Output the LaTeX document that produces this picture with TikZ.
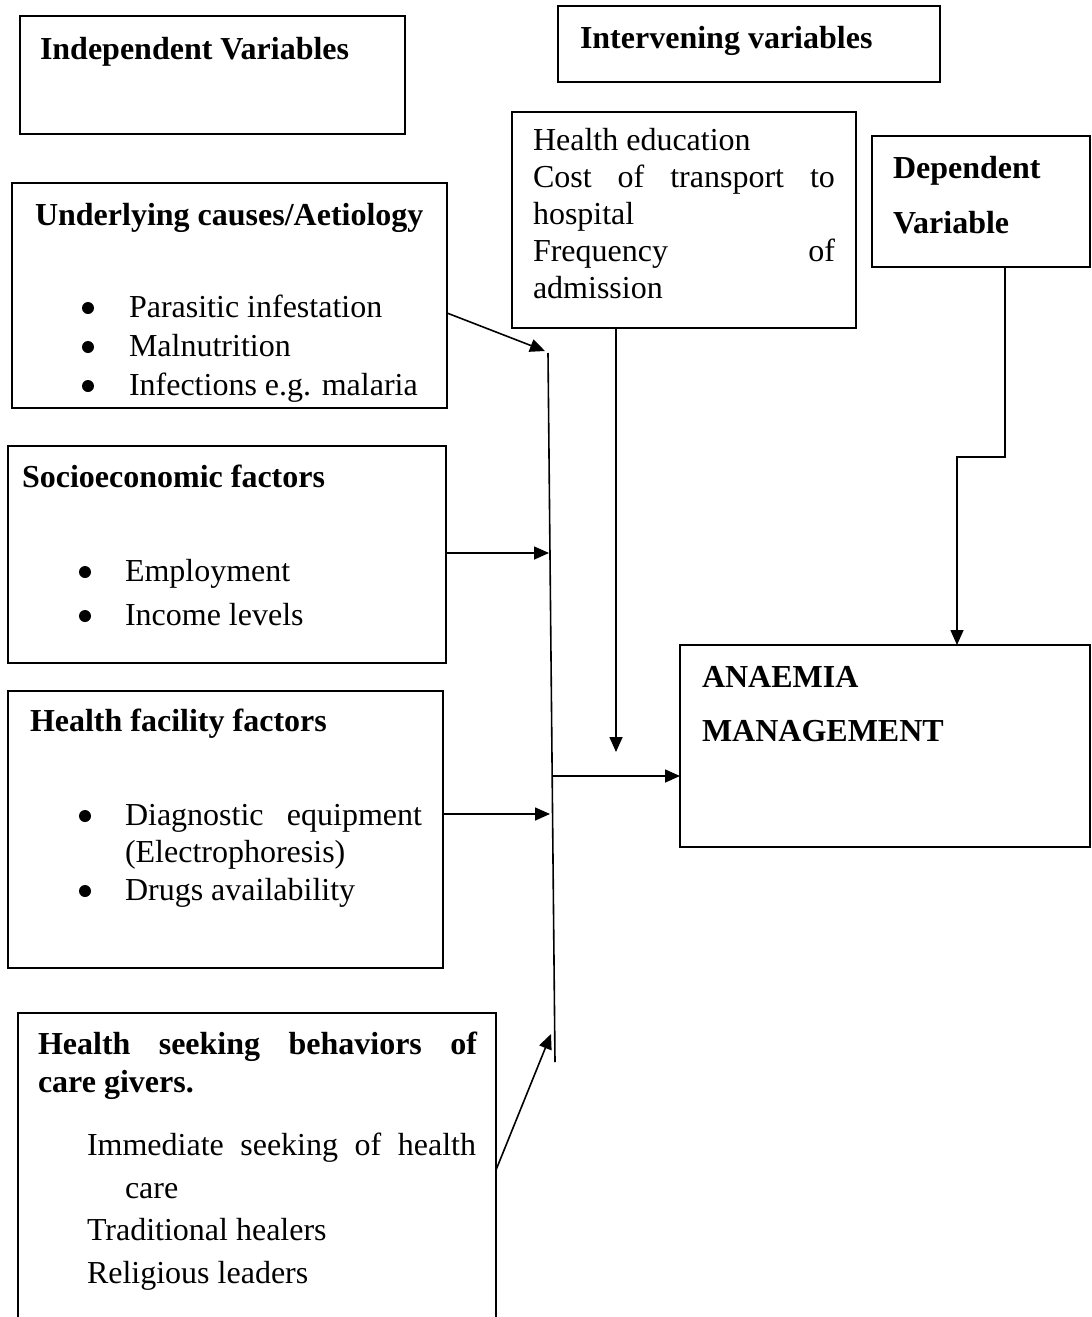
\documentclass[tikz,border=0pt]{standalone}
\usepackage{fontspec}
\setmainfont{Liberation Serif}
\usetikzlibrary{arrows.meta}
\begin{document}
\begin{tikzpicture}[x=1pt,y=-1pt,
  box/.style={draw, line width=1.6pt, inner sep=0pt, outer sep=0pt},
  txt/.style={anchor=base west, inner sep=0pt, outer sep=0pt, font=\fontsize{32}{37}\selectfont},
  head/.style={anchor=base west, inner sep=0pt, outer sep=0pt, font=\fontsize{32}{37}\selectfont\bfseries},
  bul/.style={circle, fill, inner sep=0pt, outer sep=0pt, minimum size=12pt},
  conn/.style={line width=1.6pt},
  arr/.style={line width=1.6pt, -{Triangle[length=15pt,width=13pt]}}]
\useasboundingbox (0,0) rectangle (1092,1317);
\clip (0,0) rectangle (1092,1317);

% boxes
\node[box, minimum width=385pt, minimum height=118pt] (ind) at (212.5,75) {};
\node[box, minimum width=382pt, minimum height=76pt] (intv) at (749,44) {};
\node[box, minimum width=344pt, minimum height=216pt] (he) at (684,220) {};
\node[box, minimum width=218pt, minimum height=131pt] (dep) at (981,201.5) {};
\node[box, minimum width=435pt, minimum height=225pt] (und) at (229.5,295.5) {};
\node[box, minimum width=438pt, minimum height=217pt] (soc) at (227,554.5) {};
\node[box, minimum width=435pt, minimum height=277pt] (hf) at (225.5,829.5) {};
\node[box, minimum width=478pt, minimum height=327pt] (hs) at (257,1176.5) {};
\node[box, minimum width=410pt, minimum height=202pt] (an) at (885,746) {};

% texts
\node[head] (tind) at (40,59) {Independent Variables};
\node[head] (tintv) at (580,48) {Intervening variables};

\node[txt] (he1) at (533,150) {Health education};
\node[txt] (he2) at (533,187) {\makebox[302pt][s]{Cost of transport to}};
\node[txt] (he3) at (533,224) {hospital};
\node[txt] (he4) at (533,261) {\makebox[302pt][s]{Frequency of}};
\node[txt] (he5) at (533,298) {admission};

\node[head] (dep1) at (893,178) {Dependent};
\node[head] (dep2) at (893,233) {Variable};

\node[head] (und0) at (35,225) {Underlying causes/Aetiology};
\node[bul] (ub1) at (88,308) {};
\node[txt] (und1) at (129,317) {Parasitic infestation};
\node[bul] (ub2) at (88,347) {};
\node[txt] (und2) at (129,356) {Malnutrition};
\node[bul] (ub3) at (88,386) {};
\node[txt] (und3) at (129,395) {Infections e.g. malaria};

\node[head] (soc0) at (22,487) {Socioeconomic factors};
\node[bul] (sb1) at (85,572) {};
\node[txt] (soc1) at (125,581) {Employment};
\node[bul] (sb2) at (85,616) {};
\node[txt] (soc2) at (125,625) {Income levels};

\node[head] (hf0) at (30,731) {Health facility factors};
\node[bul] (fb1) at (85,816) {};
\node[txt] (hf1) at (125,825) {\makebox[297pt][s]{Diagnostic equipment}};
\node[txt] (hf2) at (125,862) {(Electrophoresis)};
\node[bul] (fb2) at (85,891) {};
\node[txt] (hf3) at (125,900) {Drugs availability};

\node[head] (hs0) at (38,1054) {\makebox[439pt][s]{Health seeking behaviors of}};
\node[head] (hs1) at (38,1092) {care givers.};
\node[txt] (hs2) at (87,1155) {\makebox[389pt][s]{Immediate seeking of health}};
\node[txt] (hs3) at (125,1198) {care};
\node[txt] (hs4) at (87,1240) {Traditional healers};
\node[txt] (hs5) at (87,1283) {Religious leaders};

\node[head] (an1) at (702,687) {ANAEMIA};
\node[head] (an2) at (702,741) {MANAGEMENT};

% connector coordinates
\coordinate (busTop) at (548,353);
\coordinate (busBot) at (555,1062);
\coordinate (in1) at (545,351);
\coordinate (in2) at (549,553);
\coordinate (in3) at (550,814);
\coordinate (in4) at (551,1034);
\coordinate (busOut) at (552,776);
\coordinate (y313) at (0,313);
\coordinate (y1170) at (0,1170);
\coordinate (heEnd) at (616,752);
\coordinate (d1) at (1005,457);
\coordinate (d2) at (957,457);

% connectors
\draw[conn] (busTop) -- (busBot);
\draw[arr] (und.east |- y313) -- (in1);
\draw[arr] (soc.east |- in2) -- (in2);
\draw[arr] (hf.east |- in3) -- (in3);
\draw[arr] (hs.east |- y1170) -- (in4);
\draw[arr] (busOut) -- (an.west |- busOut);
\draw[arr] (he.south -| heEnd) -- (heEnd);
\draw[arr] (dep.south -| d1) -- (d1) -- (d2) -- (an.north -| d2);
\end{tikzpicture}
\end{document}
